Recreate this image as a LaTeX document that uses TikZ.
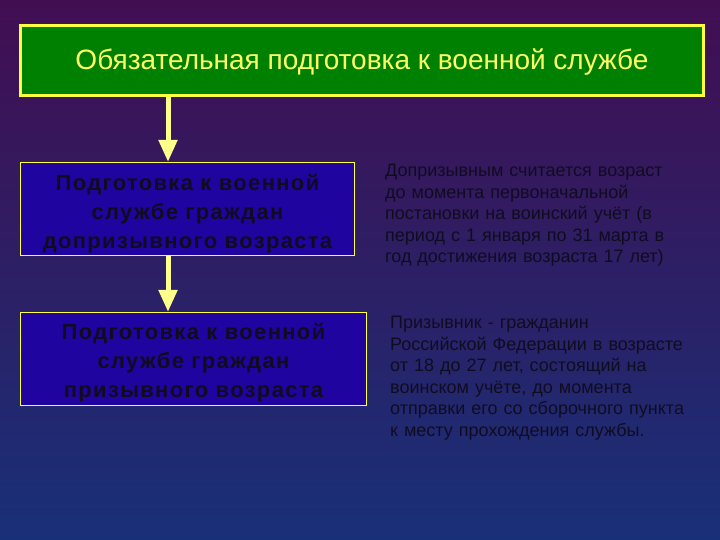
\documentclass[tikz,border=0pt]{standalone}
\usepackage{fontspec}
\setmainfont{Liberation Sans}
\usetikzlibrary{arrows.meta}
\usetikzlibrary{positioning}

\definecolor{bgtop}{RGB}{66,14,82}
\definecolor{bgmid}{RGB}{48,24,108}
\definecolor{bgbot}{RGB}{24,48,120}
\definecolor{boxgreen}{RGB}{0,128,0}
\definecolor{boxblue}{RGB}{32,4,160}
\definecolor{lineyellow}{RGB}{255,255,60}
\definecolor{arrowyellow}{RGB}{255,255,140}
\definecolor{titletext}{RGB}{255,255,102}
\definecolor{darktext}{RGB}{16,12,32}

\newcommand{\toprule}[1]{\rule{0pt}{#1}}

\begin{document}
\begin{tikzpicture}[x=1pt,y=-1pt,
	title box/.style={draw=lineyellow,line width=3pt,fill=boxgreen,text=titletext,font=\fontsize{28}{32}\selectfont,minimum width=683pt,minimum height=70pt,inner sep=0pt,text height=20pt,text depth=2pt},
	stage box/.style={draw=lineyellow,line width=1.2pt,fill=boxblue,text=darktext,align=center,minimum height=93pt,inner sep=0pt,font=\fontsize{22}{29}\selectfont\bfseries\addfontfeatures{LetterSpace=6}},
	note/.style={anchor=north west,align=left,text width=320pt,inner sep=0pt,text=darktext,font=\fontsize{18}{21.5}\selectfont},
	big arrow/.style={-{Triangle[width=18pt,length=22pt]},draw=arrowyellow,line width=5pt}]

	% background
	\shade[top color=bgtop,middle color=bgmid,bottom color=bgbot] (0,0) rectangle (720,540);
	\useasboundingbox (0,0) rectangle (720,540);

	\node[title box] (oblig) at (362,60.5) {Обязательная подготовка к военной службе};
	\node[stage box,minimum width=334pt] (precon) at (187.5,209) {\toprule{26pt}Подготовка к военной\\службе граждан\\допризывного возраста};
	\node[stage box,minimum width=346pt] (con) at (193.5,359) {\toprule{23pt}Подготовка к военной\\службе граждан\\призывного возраста};

	\node[note] (preinfo) at (385,164) {Допризывным считается возраст\\до момента первоначальной\\постановки на воинский учёт (в\\период с 1 января по 31 марта в\\год достижения возраста 17 лет)};
	\node[note] (coninfo) at (390,316) {Призывник - гражданин\\Российской Федерации в возрасте\\от 18 до 27 лет, состоящий на\\воинском учёте, до момента\\отправки его со сборочного пункта\\к месту прохождения службы.};

	% arrows
	\coordinate (ax) at (168,0);
	\draw[big arrow] (ax |- oblig.south) -- (ax |- precon.north);
	\draw[big arrow] (ax |- precon.south) -- (ax |- con.north);
\end{tikzpicture}
\end{document}
